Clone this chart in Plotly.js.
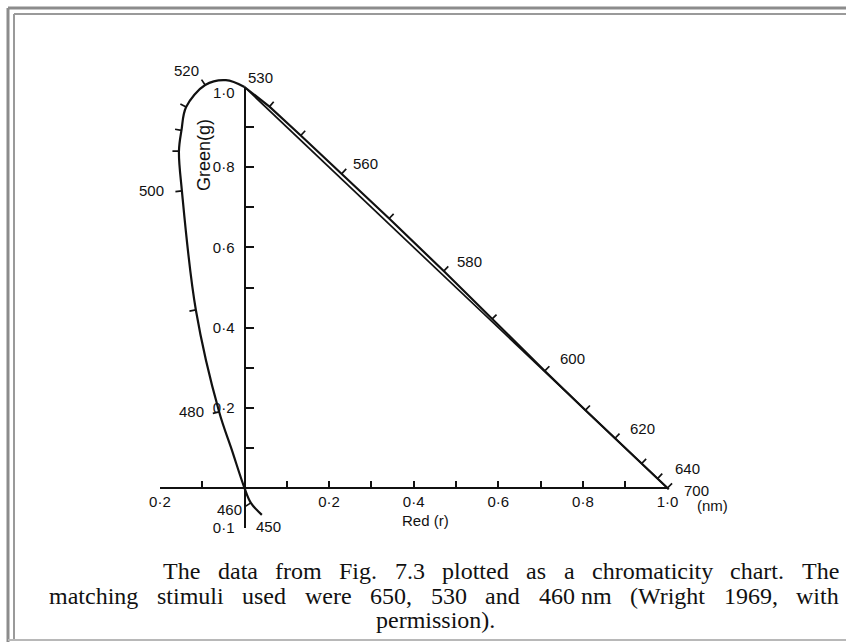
<!DOCTYPE html>
<html><head><meta charset="utf-8">
<script src="https://cdn.plot.ly/plotly-3.0.1.min.js"></script>
<style>html,body{margin:0;padding:0;background:#fff}#chart{width:846px;height:642px}</style>
</head><body><div id="chart"></div>
<script>
// ---- Data: spectrum locus in (r, g) chromaticity coordinates ----
const wavelengths = [450, 455, 460, 470, 480, 490, 500, 505, 510, 515, 520, 525, 530, 540, 550, 560, 570, 580, 590, 600, 610, 620, 630, 640, 650, 700];
const rCoord = [0.041, 0.015, 0.000, -0.030, -0.060, -0.115, -0.148, -0.155, -0.149, -0.138, -0.093, -0.044, 0.000, 0.059, 0.133, 0.230, 0.342, 0.471, 0.585, 0.710, 0.806, 0.876, 0.939, 0.977, 1.000, 1.003];
const gCoord = [-0.067, -0.037, 0.000, 0.095, 0.190, 0.444, 0.741, 0.840, 0.892, 0.950, 1.005, 1.017, 1.000, 0.951, 0.879, 0.784, 0.672, 0.541, 0.421, 0.292, 0.194, 0.124, 0.061, 0.024, 0.000, -0.003];
// matching stimuli (primaries) 530 nm and 650 nm joined by the straight side r + g = 1
const primaryR = [0, 1];
const primaryG = [1, 0];
// wavelengths with a tick mark on the locus, and wavelengths with a label
const tickWavelengths = [455, 480, 490, 500, 505, 510, 515, 520, 540, 550, 560, 570, 580, 590, 600, 610, 620, 630, 640, 650];
const labelWavelengths = [450, 460, 480, 500, 520, 530, 560, 580, 600, 620, 640, 700];
// axis ticks
const xTickVals = [-0.2, -0.1, 0, 0.1, 0.2, 0.3, 0.4, 0.5, 0.6, 0.7, 0.8, 0.9, 1.0];
const xTickText = ['0·2', '', '', '', '0·2', '', '0·4', '', '0·6', '', '0·8', '', '1·0'];
const yTickVals = [-0.1, 0, 0.1, 0.2, 0.3, 0.4, 0.5, 0.6, 0.7, 0.8, 0.9];
const yTickText = ['0·1', '', '', '0·2', '', '0·4', '', '0·6', '', '0·8', ''];
const captionLines = [
  ['The', 'data', 'from', 'Fig.', '7.3', 'plotted', 'as', 'a', 'chromaticity', 'chart.', 'The'],
  ['matching', 'stimuli', 'used', 'were', '650,', '530', 'and', '460 nm', '(Wright', '1969,', 'with'],
  ['permission).']
];

// ---- Layout geometry ----
const W = 846, H = 642;
const OX = 244.5, OY = 488, KX = 423, KY = 401;   // pixel origin and pixels per unit
const xRange = [-OX / KX, (W - OX) / KX];
const yRange = [-(H - OY) / KY, OY / KY];
const paperX = r => (OX + r * KX) / W;
const paperY = g => (H - OY + g * KY) / H;

const labelShift = {450:[7,-12], 460:[-15,-21], 480:[-28,0], 500:[-30,0], 520:[-19,15], 530:[16,10],
  560:[24,10], 580:[26,10], 600:[28,12], 620:[27,10], 640:[30,10], 700:[28,-1]};

// caption: justified lines (left edge, right edge in px), last line centred
const CAP_FONT = 'Liberation Serif, Times New Roman, serif';
const CAP_SIZE = 24;
const captionSpan = [[162, 838], [48, 838], [435, 435]];
const captionY = [571, 596, 620];

const i530 = wavelengths.indexOf(530);
const leftIdx = wavelengths.map((w, i) => i).filter(i => i <= i530);
const rightIdx = wavelengths.map((w, i) => i).filter(i => i >= i530);

// tick marks: short segments normal to the locus, pointing outward
const TICK_PX = 6.5;
const tickX = [], tickY = [];
tickWavelengths.forEach(w => {
  const i = wavelengths.indexOf(w);
  const a = Math.max(i - 1, 0), b = Math.min(i + 1, wavelengths.length - 1);
  const tx = (rCoord[b] - rCoord[a]) * KX, ty = (gCoord[b] - gCoord[a]) * KY;
  const len = Math.hypot(tx, ty);
  let nx = -ty / len, ny = tx / len;
  const ox = (rCoord[i] - 0.33) * KX, oy = (gCoord[i] - 0.33) * KY;
  if (nx * ox + ny * oy < 0) { nx = -nx; ny = -ny; }
  tickX.push(rCoord[i], rCoord[i] + nx * TICK_PX / KX, null);
  tickY.push(gCoord[i], gCoord[i] + ny * TICK_PX / KY, null);
});

const lineStyle = {color: '#111', width: 2.2};
const traces = [
  {x: leftIdx.map(i => rCoord[i]), y: leftIdx.map(i => gCoord[i]), mode: 'lines',
   line: Object.assign({shape: 'spline', smoothing: 1}, lineStyle), hoverinfo: 'skip'},
  {x: rightIdx.map(i => rCoord[i]), y: rightIdx.map(i => gCoord[i]), mode: 'lines',
   line: lineStyle, hoverinfo: 'skip'},
  {x: primaryR, y: primaryG, mode: 'lines', line: {color: '#111', width: 1.7}, hoverinfo: 'skip'},
  {x: tickX, y: tickY, mode: 'lines', line: {color: '#111', width: 1.7}, hoverinfo: 'skip'},
  {x: [0], y: [0], xaxis: 'x2', yaxis: 'y2', mode: 'markers', marker: {opacity: 0}, hoverinfo: 'skip'}
];

const tickFont = {family: 'Liberation Sans, Arial, sans-serif', size: 15, color: '#111'};
const annotations = [];
labelWavelengths.forEach(w => {
  const i = wavelengths.indexOf(w);
  annotations.push({x: rCoord[i], y: gCoord[i], xref: 'x', yref: 'y', text: String(w), showarrow: false,
    xanchor: 'center', yanchor: 'middle',
    xshift: labelShift[w][0], yshift: labelShift[w][1], font: tickFont});
});
annotations.push({x: 1.0, y: 0, xref: 'x', yref: 'y', text: '(nm)', showarrow: false, xanchor: 'center', yanchor: 'middle',
  xshift: 45, yshift: -17, font: tickFont});
annotations.push({x: 0, y: 1.0, xref: 'x', yref: 'y', text: '1·0', showarrow: false, xanchor: 'center', yanchor: 'middle',
  xshift: -21, yshift: -5, font: tickFont});
annotations.push({x: 204 / W, y: 1 - 155 / H, xref: 'paper', yref: 'paper', text: 'Green(g)', textangle: -90,
  xanchor: 'center', yanchor: 'middle',
  showarrow: false, font: {family: 'Liberation Sans, Arial, sans-serif', size: 18, color: '#111'}});
annotations.push({x: 425 / W, y: 1 - 520 / H, xref: 'paper', yref: 'paper', text: 'Red (r)',
  xanchor: 'center', yanchor: 'middle',
  showarrow: false, font: {family: 'Liberation Sans, Arial, sans-serif', size: 15, color: '#111'}});

// measure caption words to justify them like the printed caption
const ctx = document.createElement('canvas').getContext('2d');
ctx.font = CAP_SIZE + 'px "Liberation Serif"';
captionLines.forEach((words, li) => {
  const [x0, x1] = captionSpan[li];
  if (words.length === 1) {
    annotations.push({x: x0 / W, y: 1 - captionY[li] / H, xref: 'paper', yref: 'paper', xanchor: 'center', yanchor: 'middle',
      text: words[0], showarrow: false, borderpad: 0, font: {family: CAP_FONT, size: CAP_SIZE, color: '#111'}});
    return;
  }
  const widths = words.map(wd => ctx.measureText(wd).width);
  const total = widths.reduce((s, v) => s + v, 0);
  const gap = (x1 - x0 - total) / (words.length - 1);
  let cx = x0;
  words.forEach((wd, wi) => {
    annotations.push({x: cx / W, y: 1 - captionY[li] / H, xref: 'paper', yref: 'paper', xanchor: 'left', yanchor: 'middle',
      text: wd, showarrow: false, borderpad: 0, font: {family: CAP_FONT, size: CAP_SIZE, color: '#111'}});
    cx += widths[wi] + gap;
  });
});

const frame = [
  {type: 'line', xref: 'paper', yref: 'paper', x0: 8 / W, x1: 8 / W, y0: 0, y1: 1 - 8 / H, line: {color: '#8c8c8c', width: 3}},
  {type: 'line', xref: 'paper', yref: 'paper', x0: 8 / W, x1: 1, y0: 1 - 8 / H, y1: 1 - 8 / H, line: {color: '#8c8c8c', width: 3}},
  {type: 'line', xref: 'paper', yref: 'paper', x0: 14 / W, x1: 14 / W, y0: 2 / H, y1: 1 - 14 / H, line: {color: '#9a9a9a', width: 2}},
  {type: 'line', xref: 'paper', yref: 'paper', x0: 14 / W, x1: 1, y0: 1 - 14 / H, y1: 1 - 14 / H, line: {color: '#9a9a9a', width: 2}},
  {type: 'line', xref: 'paper', yref: 'paper', x0: 8 / W, x1: 1, y0: 2 / H, y1: 2 / H, line: {color: '#b8b8b8', width: 2}}
];

const layout = {
  width: W, height: H,
  margin: {l: 0, r: 0, t: 0, b: 0, pad: 0},
  paper_bgcolor: '#fff', plot_bgcolor: 'rgba(0,0,0,0)',
  showlegend: false,
  xaxis: {range: xRange, domain: [0, 1], visible: false, fixedrange: true},
  yaxis: {range: yRange, domain: [0, 1], visible: false, fixedrange: true},
  xaxis2: {range: [-0.2, 1.0], domain: [paperX(-0.2), paperX(1.0)], anchor: 'free', position: paperY(0),
    side: 'bottom', showline: true, linecolor: '#111', linewidth: 2, showgrid: false, zeroline: false,
    ticks: 'inside', ticklen: 6, tickwidth: 2, tickcolor: '#111', tickmode: 'array',
    tickvals: xTickVals, ticktext: xTickText, tickfont: tickFont, ticklabelstandoff: 0, fixedrange: true},
  yaxis2: {range: [-0.1, 1.0], domain: [paperY(-0.1), paperY(1.0)], anchor: 'free', position: paperX(0),
    side: 'left', showline: true, linecolor: '#111', linewidth: 2, showgrid: false, zeroline: false,
    ticks: 'inside', ticklen: 8, tickwidth: 2, tickcolor: '#111', tickmode: 'array',
    tickvals: yTickVals, ticktext: yTickText, tickfont: tickFont, ticklabelstandoff: 6, fixedrange: true},
  annotations: annotations,
  shapes: frame
};

Plotly.newPlot('chart', traces, layout, {staticPlot: true, displayModeBar: false});
</script>
</body></html>
